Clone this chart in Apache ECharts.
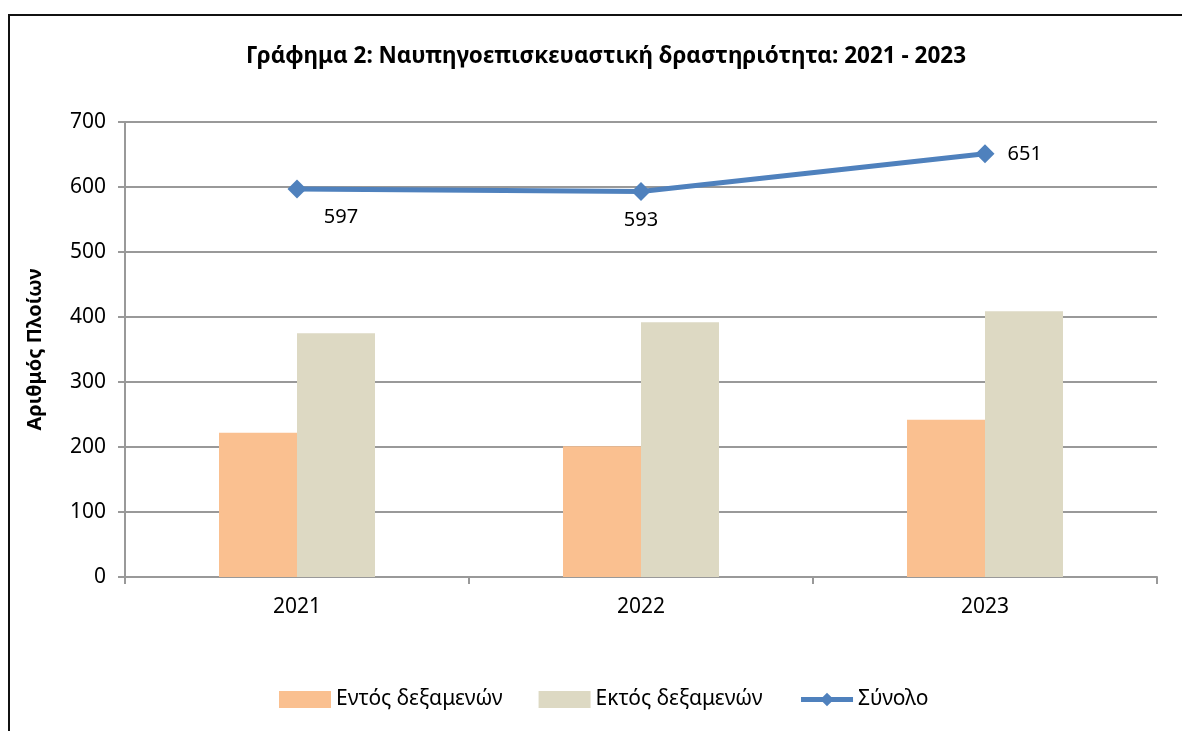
<!DOCTYPE html>
<html>
<head>
<meta charset="utf-8">
<script src="https://cdn.jsdelivr.net/npm/echarts@6/dist/echarts.min.js"></script>
<style>
  html, body { margin: 0; padding: 0; background: #fff; overflow: hidden; }
  #frame { position: absolute; left: 8px; top: 14px; width: 1300px; height: 900px; border: 2px solid #111; box-sizing: border-box; }
  #chart { position: absolute; left: 0; top: 0; width: 1182px; height: 731px; }
</style>
</head>
<body>
<div id="frame"></div>
<div id="chart"></div>
<script>
const years = ['2021', '2022', '2023'];
const insideDocks = [222, 201, 242];
const outsideDocks = [375, 392, 409];
const total = [597, 593, 651];
const totalLabelPos = ['bottom', 'bottom', 'right'];

const myChart = echarts.init(document.getElementById('chart'));
const font = '"Noto Sans", sans-serif';

const option = {
    textStyle: { fontFamily: font },
    title: {
        text: 'Γράφημα 2: Ναυπηγοεπισκευαστική δραστηριότητα: 2021 - 2023',
        left: 241,
        top: 40,
        textStyle: { fontFamily: font, fontSize: 22.5, fontWeight: 'bold', color: '#000' }
    },
    legend: {
        top: 684,
        left: 274,
        itemWidth: 52,
        itemHeight: 17,
        itemGap: 36,
        textStyle: { fontFamily: font, fontSize: 21, color: '#000' },
        data: [
            { name: 'Εντός δεξαμενών', icon: 'rect' },
            { name: 'Εκτός δεξαμενών', icon: 'rect' },
            { name: 'Σύνολο', lineStyle: { width: 5, color: '#4F81BD' } }
        ]
    },
    grid: { left: 125, right: 25, top: 122, bottom: 154 },
    xAxis: {
        type: 'category',
        data: years,
        axisLine: { lineStyle: { color: '#999', width: 2 } },
        axisTick: { show: true, length: 7, lineStyle: { color: '#999', width: 2 } },
        axisLabel: { fontFamily: font, fontSize: 21, color: '#000', margin: 20 }
    },
    yAxis: {
        type: 'value',
        min: 0,
        max: 700,
        interval: 100,
        name: 'Αριθμός Πλοίων',
        nameLocation: 'middle',
        nameGap: 80,
        nameRotate: 90,
        nameTextStyle: { fontFamily: font, fontSize: 20, fontWeight: 'bold', color: '#000' },
        axisLine: { show: true, lineStyle: { color: '#999', width: 2 } },
        axisTick: { show: true, length: 7, lineStyle: { color: '#999', width: 2 } },
        axisLabel: { fontFamily: font, fontSize: 21, color: '#000', margin: 19 },
        splitLine: { lineStyle: { color: '#999', width: 2 } }
    },
    series: [
        {
            name: 'Εντός δεξαμενών',
            type: 'bar',
            data: insideDocks,
            barWidth: 78,
            barGap: '0%',
            itemStyle: { color: '#FAC090' }
        },
        {
            name: 'Εκτός δεξαμενών',
            type: 'bar',
            data: outsideDocks,
            barWidth: 78,
            barGap: '0%',
            itemStyle: { color: '#DDD9C3' }
        },
        {
            name: 'Σύνολο',
            type: 'line',
            data: total.map((v, i) => ({
                value: v,
                label: {
                    position: totalLabelPos[i],
                    offset: i === 0 ? [44, 0] : (i === 2 ? [4, 0] : [0, 0])
                }
            })),
            symbol: 'diamond',
            symbolSize: 19,
            lineStyle: { color: '#4F81BD', width: 5 },
            itemStyle: { color: '#4F81BD' },
            label: {
                show: true,
                fontFamily: font,
                fontSize: 20,
                color: '#000',
                distance: 9
            },
            z: 5
        }
    ]
};
myChart.setOption(option);
</script>
</body>
</html>
